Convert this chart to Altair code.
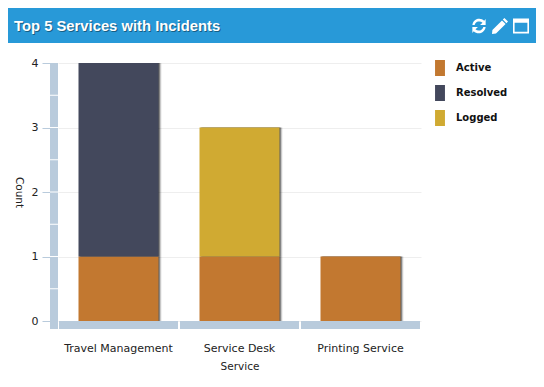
import altair as alt
import pandas as pd

services = ["Travel Management", "Service Desk", "Printing Service"]
states = ["Active", "Resolved", "Logged"]
colors = ["#c27830", "#43485c", "#d0aa32"]
row_service = ["Travel Management", "Travel Management", "Service Desk", "Service Desk", "Printing Service"]
row_state = ["Active", "Resolved", "Active", "Logged", "Active"]
row_count = [1, 3, 1, 2, 1]
row_order = [0, 1, 0, 2, 0]
half_ticks = [0.5, 1, 1.5, 2, 2.5, 3, 3.5]
title_text = "Top 5 Services with Incidents"

df = pd.DataFrame({"service": row_service, "state": row_state, "count": row_count, "ord": row_order})
x_scale = alt.Scale(domain=services, paddingInner=0, paddingOuter=0)
y_scale = alt.Scale(domain=[0, 4], nice=False, zero=True)
FONT = "DejaVu Sans"

x_enc = alt.X("service:N", scale=x_scale, sort=services, title="Service",
              axis=alt.Axis(labelAngle=0, domain=False, ticks=False, offset=8, labelPadding=13,
                            labelFont=FONT, labelFontSize=11, labelColor="#222", titleFont=FONT,
                            titleFontSize=10.5, titleFontWeight="normal", titleColor="#222", titlePadding=8,
                            grid=False))

def bars(dx, **kw):
    return alt.Chart(df).mark_bar(size=80, xOffset=dx, **kw).encode(
        x=alt.X("service:N", scale=x_scale, sort=services, axis=None),
        y=alt.Y("sum(count):Q", scale=y_scale, axis=None),
        order=alt.Order("ord:Q"),
    )

axis_layer = alt.Chart(df).mark_bar(opacity=0).encode(
    x=x_enc,
    y=alt.Y("sum(count):Q", scale=y_scale, title="Count",
            axis=alt.Axis(values=[0, 1, 2, 3, 4], format="d", offset=8, tickSize=8, tickColor="#b9cbdc",
                          domain=False, grid=True, gridColor="#eeeeee", labelFont=FONT, labelFontSize=11,
                          labelColor="#222", labelPadding=4, titleFont=FONT, titleFontSize=10.5,
                          titleFontWeight="normal", titleColor="#222", titleAngle=90,
                          titleBaseline="middle", titleAlign="center", titleX=-32, titleY=129)),
)

yband = alt.Chart(pd.DataFrame({"a": [0]})).mark_rect(color="#b9cbdc").encode(
    x=alt.value(-8), x2=alt.value(0), y=alt.value(0), y2=alt.value(266))
ygaps = alt.Chart(pd.DataFrame({"v": half_ticks})).mark_rule(color="white", strokeWidth=1).encode(
    x=alt.value(-8), x2=alt.value(0), y=alt.Y("v:Q", scale=y_scale, axis=None))
xband = alt.Chart(pd.DataFrame({"service": services})).mark_bar(size=119, color="#b9cbdc").encode(
    x=alt.X("service:N", scale=x_scale, sort=services, axis=None),
    y=alt.value(258), y2=alt.value(266))

shadows = [bars(3, color="#000000", opacity=0.10), bars(2, color="#000000", opacity=0.25), bars(1, color="#000000", opacity=0.45)]

main = bars(0).encode(color=alt.Color("state:N", scale=alt.Scale(domain=states, range=colors),
    legend=alt.Legend(title=None, orient="none", legendX=374, legendY=-3,
                      symbolType="M-0.62,-1H0.62V1H-0.62Z", symbolSize=256, symbolStrokeWidth=0,
                      symbolOpacity=1, labelFont=FONT, labelFontSize=10, labelFontWeight="bold",
                      labelColor="#111", rowPadding=9, labelOffset=8, padding=0)))

header = alt.Chart(pd.DataFrame({"a": [0]})).mark_rect(color="#2899d8").encode(
    x=alt.value(-50), x2=alt.value(479), y=alt.value(-56), y2=alt.value(-20))

def head_text(dx, dy, color, opacity):
    return alt.Chart(pd.DataFrame({"t": [title_text]})).mark_text(
        align="left", baseline="middle", font="Liberation Sans", fontSize=14.8, fontWeight="bold",
        color=color, opacity=opacity).encode(
        x=alt.value(-44 + dx), y=alt.value(-36 + dy), text="t:N")

def icon(px, size, path, **kw):
    return alt.Chart(pd.DataFrame({"a": [0]})).mark_point(shape=path, size=size, filled=True, color="white",
        opacity=1, **kw).encode(x=alt.value(px), y=alt.value(-37))

refresh = ("M0.75,-0.75 L0.95,-1 L0.95,-0.15 L0.15,-0.15 L0.5,-0.48 A0.68,0.68 0 0 0 -0.62,-0.15 L-0.95,-0.15 "
           "A1,1 0 0 1 0.75,-0.75 Z M-0.75,0.75 L-0.95,1 L-0.95,0.15 L-0.15,0.15 L-0.5,0.48 A0.68,0.68 0 0 0 0.62,0.15 "
           "L0.95,0.15 A1,1 0 0 1 -0.75,0.75 Z")
pencil = "M0.55,-1 L1,-0.55 L0.8,-0.35 L0.35,-0.8 Z M0.25,-0.7 L0.7,-0.25 L-0.5,0.95 L-1,1 L-0.95,0.5 Z"
window = ("M-1,-0.95 H1 V0.95 H-1 Z M-0.8,-0.4 V0.72 H0.8 V-0.4 Z")

chart = alt.layer(
    header, head_text(1, 1, "#14506f", 0.8), head_text(0, 0, "white", 1),
    icon(421, 196, refresh), icon(442, 256, pencil), icon(463, 256, window),
    axis_layer, yband, ygaps, xband, *shadows, main,
).resolve_axis(x="independent", y="independent").properties(
    width=363, height=258, background="white",
    padding={"left": 50, "top": 55, "right": 115, "bottom": 58},
    autosize=alt.AutoSizeParams(type="none"),
).configure_view(stroke=None)

chart.save("out.html", embed_options={"renderer": "svg", "actions": False})
